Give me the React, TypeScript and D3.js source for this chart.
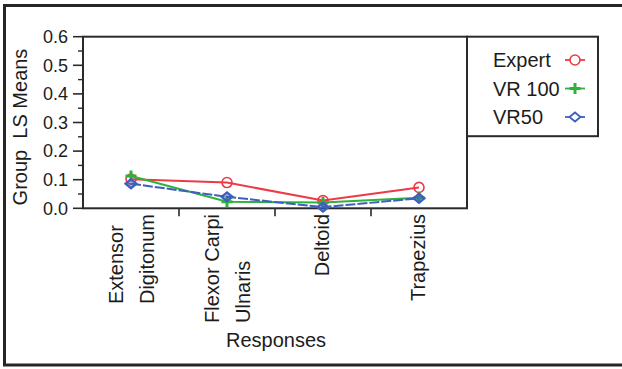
import React from "react";
import * as d3 from "d3";

const categories: string[][] = [["Extensor", "Digitonum"], ["Flexor Carpi", "Ulnaris"], ["Deltoid"], ["Trapezius"]];
const seriesNames = ["Expert", "VR 100", "VR50"];
const expert = [0.102, 0.09, 0.027, 0.073];
const vr100 = [0.113, 0.023, 0.02, 0.037];
const vr50 = [0.086, 0.04, 0.004, 0.035];
const yTicks = [0, 0.1, 0.2, 0.3, 0.4, 0.5, 0.6];
const yMinorTicks = [0.05, 0.15, 0.25, 0.35, 0.45, 0.55];

const FONT = "'Liberation Sans', Arial, Helvetica, sans-serif";
const colors = ["#ee3a45", "#2fb23a", "#3d5fbf"];

function measure(text: string, size: number): number {
  if (typeof document === "undefined") return text.length * size * 0.5;
  const c = document.createElement("canvas");
  const ctx = c.getContext("2d");
  if (!ctx) return text.length * size * 0.5;
  ctx.font = `${size}px 'Liberation Sans', Arial, sans-serif`;
  return ctx.measureText(text).width;
}

function Marker({ kind, x, y, color, legend }: { kind: number; x: number; y: number; color: string; legend?: boolean }) {
  if (kind === 0) return <circle cx={x} cy={y} r={5} fill="white" fillOpacity={legend ? 1 : 0} stroke={color} strokeWidth={1.6} />;
  if (kind === 1)
    return (
      <path d={`M${x - 5.5},${y}H${x + 5.5}M${x},${y - 5.5}V${y + 5.5}`} stroke={color} strokeWidth={3} fill="none" />
    );
  return (
    <path
      d={`M${x - 5.5},${y}L${x},${y - 4.5}L${x + 5.5},${y}L${x},${y + 4.5}Z`}
      stroke={color}
      strokeWidth={legend ? 1.8 : 2.2}
      fill={legend ? "white" : color}
      fillOpacity={legend ? 1 : 0.5}
    />
  );
}

export default function App() {
  const W = 622, H = 369;
  const left = 83, right = 467, top = 36.7, bottom = 208.3;
  const x = d3.scaleBand<number>().domain(d3.range(categories.length)).range([left, right]);
  const y = d3.scaleLinear().domain([0, 0.6]).range([bottom, top]);
  const series = [expert, vr100, vr50];
  const line = d3
    .line<number>()
    .x((_, i) => (x(i) as number) + x.bandwidth() / 2)
    .y((d) => y(d));
  const fs = 20;
  const labelTop = 214;
  const ink = "#1c1c1c";

  return (
    <svg width={W} height={H} style={{ position: "absolute", left: 0, top: 0, background: "white" }} fontFamily={FONT}>
      <rect x={0} y={0} width={W} height={H} fill="white" />
      <rect x={4.5} y={5.5} width={W + 20} height={359.5} fill="none" stroke="#262626" strokeWidth={3} />

      {/* plot frame */}
      <rect x={left} y={top} width={right - left} height={bottom - top} fill="white" stroke="#2a2a2a" strokeWidth={2} />

      {/* y axis */}
      {yTicks.map((t) => (
        <g key={t}>
          <line x1={left - 10} x2={left} y1={y(t)} y2={y(t)} stroke="#2a2a2a" strokeWidth={1.6} />
          <text x={68} y={y(t)} dy="0.35em" textAnchor="end" fontSize={18} fill={ink}>
            {d3.format(".1f")(t)}
          </text>
        </g>
      ))}
      {yMinorTicks.map((t) => (
        <line key={t} x1={left - 5} x2={left} y1={y(t)} y2={y(t)} stroke="#2a2a2a" strokeWidth={1.4} />
      ))}
      <text
        transform={`translate(27,127) rotate(-90)`}
        textAnchor="middle"
        fontSize={fs}
        fill={ink}
        style={{ whiteSpace: "pre" }}
      >
        {"Group  LS Means"}
      </text>

      {/* x axis ticks at band boundaries */}
      {d3.range(1, categories.length).map((i) => (
        <line key={i} x1={x(i) as number} x2={x(i) as number} y1={bottom} y2={bottom + 8} stroke="#2a2a2a" strokeWidth={1.6} />
      ))}

      {/* category labels */}
      {categories.map((lines, i) => {
        const cx = (x(i) as number) + x.bandwidth() / 2;
        const maxLen = Math.max(...lines.map((l) => measure(l, fs)));
        const offsets = lines.length === 1 ? [6] : [-8, 23];
        return (
          <g key={i}>
            {lines.map((l, j) => (
              <text
                key={j}
                transform={`translate(${cx + offsets[j]},${labelTop + maxLen}) rotate(-90)`}
                textAnchor="start"
                fontSize={fs}
                fill={ink}
              >
                {l}
              </text>
            ))}
          </g>
        );
      })}
      <text x={(left + right) / 2 + 1} y={347} textAnchor="middle" fontSize={fs} fill={ink}>
        Responses
      </text>

      {/* series */}
      {series.map((s, k) => (
        <g key={k}>
          <path d={line(s) || ""} fill="none" stroke={colors[k]} strokeWidth={2} strokeDasharray={k === 2 ? "10 2" : undefined} />
          {s.map((v, i) => (
            <Marker key={i} kind={k} x={(x(i) as number) + x.bandwidth() / 2} y={y(v)} color={colors[k]} />
          ))}
        </g>
      ))}

      {/* legend */}
      <rect x={right} y={top} width={131} height={99.5} fill="white" stroke="#2a2a2a" strokeWidth={2} />
      {seriesNames.map((n, k) => {
        const ly = 60 + k * 28.5;
        return (
          <g key={n}>
            <text x={493} y={ly} dy="0.35em" fontSize={fs} fill={ink} style={{ whiteSpace: "pre" }}>
              {n}
            </text>
            <line x1={565} x2={585} y1={ly} y2={ly} stroke={colors[k]} strokeWidth={1.8} />
            <Marker kind={k} x={575} y={ly} color={colors[k]} legend />
          </g>
        );
      })}
    </svg>
  );
}
